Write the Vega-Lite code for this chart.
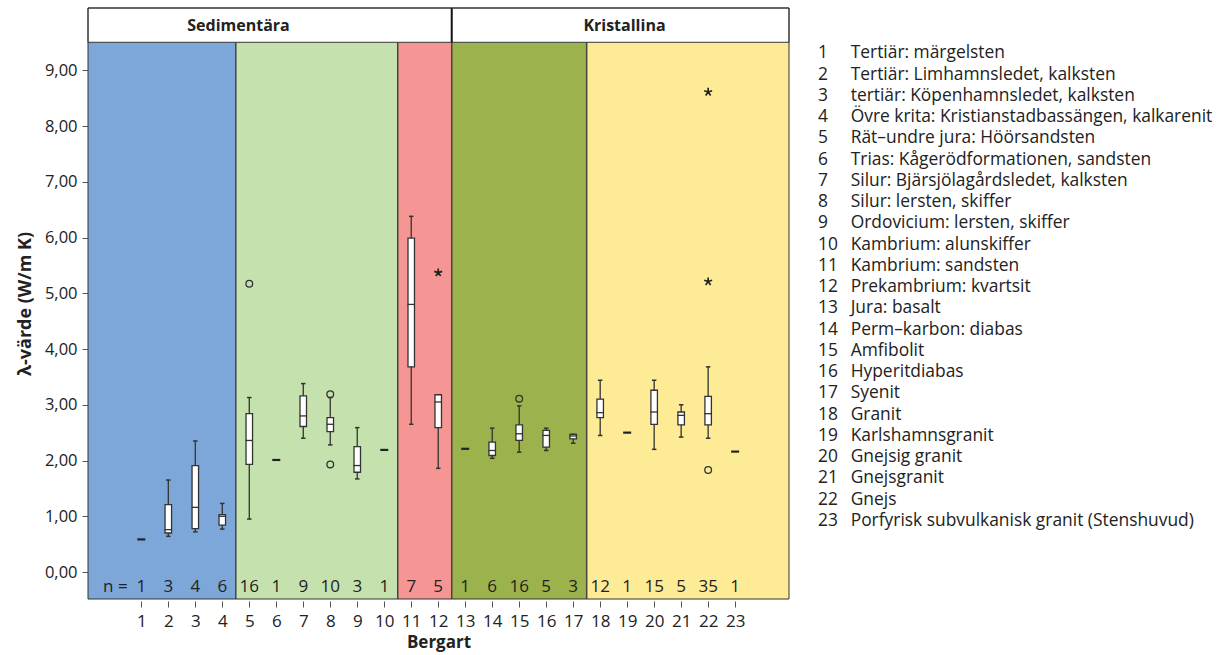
{
  "$schema": "https://vega.github.io/schema/vega-lite/v6.json",
  "padding": {"left": 16, "top": 7, "right": 0, "bottom": 3},
  "autosize": {"type": "pad"},
  "background": "white",
  "config": {"font": "Open Sans", "view": {"stroke": null}, "axisX": {"labelOverlap": false}},
  "spacing": 28,
  "datasets": {
    "regions": [
      {"region": "A", "lo": -1, "hi": 4.5},
      {"region": "B", "lo": 4.5, "hi": 10.5},
      {"region": "C", "lo": 10.5, "hi": 12.5},
      {"region": "D", "lo": 12.5, "hi": 17.5},
      {"region": "E", "lo": 17.5, "hi": 26}
    ],
    "stats": [
      {"cat": 1, "n": 1, "lo": 0.585, "q1": 0.585, "med": 0.585, "q3": 0.585, "hi": 0.585},
      {"cat": 2, "n": 3, "lo": 0.64, "q1": 0.70, "med": 0.76, "q3": 1.21, "hi": 1.65},
      {"cat": 3, "n": 4, "lo": 0.72, "q1": 0.78, "med": 1.16, "q3": 1.91, "hi": 2.35},
      {"cat": 4, "n": 6, "lo": 0.77, "q1": 0.84, "med": 1.00, "q3": 1.03, "hi": 1.23},
      {"cat": 5, "n": 16, "lo": 0.95, "q1": 1.93, "med": 2.36, "q3": 2.84, "hi": 3.13},
      {"cat": 6, "n": 1, "lo": 2.01, "q1": 2.01, "med": 2.01, "q3": 2.01, "hi": 2.01},
      {"cat": 7, "n": 9, "lo": 2.40, "q1": 2.61, "med": 2.80, "q3": 3.16, "hi": 3.38},
      {"cat": 8, "n": 10, "lo": 2.28, "q1": 2.52, "med": 2.65, "q3": 2.77, "hi": 3.13},
      {"cat": 9, "n": 3, "lo": 1.67, "q1": 1.79, "med": 1.91, "q3": 2.25, "hi": 2.59},
      {"cat": 10, "n": 1, "lo": 2.19, "q1": 2.19, "med": 2.19, "q3": 2.19, "hi": 2.19},
      {"cat": 11, "n": 7, "lo": 2.65, "q1": 3.68, "med": 4.80, "q3": 5.99, "hi": 6.38},
      {"cat": 12, "n": 5, "lo": 1.86, "q1": 2.59, "med": 3.05, "q3": 3.18, "hi": 3.18},
      {"cat": 13, "n": 1, "lo": 2.21, "q1": 2.21, "med": 2.21, "q3": 2.21, "hi": 2.21},
      {"cat": 14, "n": 6, "lo": 2.04, "q1": 2.09, "med": 2.18, "q3": 2.33, "hi": 2.58},
      {"cat": 15, "n": 16, "lo": 2.15, "q1": 2.36, "med": 2.48, "q3": 2.64, "hi": 2.98},
      {"cat": 16, "n": 5, "lo": 2.18, "q1": 2.24, "med": 2.45, "q3": 2.54, "hi": 2.58},
      {"cat": 17, "n": 3, "lo": 2.31, "q1": 2.39, "med": 2.44, "q3": 2.47, "hi": 2.47},
      {"cat": 18, "n": 12, "lo": 2.45, "q1": 2.77, "med": 2.86, "q3": 3.10, "hi": 3.44},
      {"cat": 19, "n": 1, "lo": 2.50, "q1": 2.50, "med": 2.50, "q3": 2.50, "hi": 2.50},
      {"cat": 20, "n": 15, "lo": 2.20, "q1": 2.65, "med": 2.87, "q3": 3.26, "hi": 3.44},
      {"cat": 21, "n": 5, "lo": 2.42, "q1": 2.64, "med": 2.81, "q3": 2.87, "hi": 3.00},
      {"cat": 22, "n": 35, "lo": 2.40, "q1": 2.64, "med": 2.84, "q3": 3.15, "hi": 3.68},
      {"cat": 23, "n": 1, "lo": 2.16, "q1": 2.16, "med": 2.16, "q3": 2.16, "hi": 2.16}
    ],
    "outliers": [
      {"cat": 5, "value": 5.17, "kind": "o"},
      {"cat": 8, "value": 3.19, "kind": "o"},
      {"cat": 8, "value": 1.93, "kind": "o"},
      {"cat": 12, "value": 5.37, "kind": "s"},
      {"cat": 15, "value": 3.11, "kind": "o"},
      {"cat": 22, "value": 1.83, "kind": "o"},
      {"cat": 22, "value": 5.21, "kind": "s"},
      {"cat": 22, "value": 8.61, "kind": "s"}
    ],
    "legend": [
      {"id": 1, "label": "Tertiär: märgelsten"},
      {"id": 2, "label": "Tertiär: Limhamnsledet, kalksten"},
      {"id": 3, "label": "tertiär: Köpenhamnsledet, kalksten"},
      {"id": 4, "label": "Övre krita: Kristianstadbassängen, kalkarenit"},
      {"id": 5, "label": "Rät–undre jura: Höörsandsten"},
      {"id": 6, "label": "Trias: Kågerödformationen, sandsten"},
      {"id": 7, "label": "Silur: Bjärsjölagårdsledet, kalksten"},
      {"id": 8, "label": "Silur: lersten, skiffer"},
      {"id": 9, "label": "Ordovicium: lersten, skiffer"},
      {"id": 10, "label": "Kambrium: alunskiffer"},
      {"id": 11, "label": "Kambrium: sandsten"},
      {"id": 12, "label": "Prekambrium: kvartsit"},
      {"id": 13, "label": "Jura: basalt"},
      {"id": 14, "label": "Perm–karbon: diabas"},
      {"id": 15, "label": "Amfibolit"},
      {"id": 16, "label": "Hyperitdiabas"},
      {"id": 17, "label": "Syenit"},
      {"id": 18, "label": "Granit"},
      {"id": 19, "label": "Karlshamnsgranit"},
      {"id": 20, "label": "Gnejsig granit"},
      {"id": 21, "label": "Gnejsgranit"},
      {"id": 22, "label": "Gnejs"},
      {"id": 23, "label": "Porfyrisk subvulkanisk granit (Stenshuvud)"}
    ]
  },
  "hconcat": [
    {
      "width": 701,
      "height": 591,
      "layer": [
        {
          "data": {"name": "regions"},
          "mark": {"type": "rect", "clip": true},
          "encoding": {
            "x": {"field": "lo", "type": "quantitative", "title": "Bergart",
              "scale": {"domain": [-0.79, 24.81], "nice": false, "zero": false},
              "axis": {"values": [1,2,3,4,5,6,7,8,9,10,11,12,13,14,15,16,17,18,19,20,21,22,23], "tickCount": 40, "format": "d",
                "grid": false, "domain": false, "tickSize": 6, "tickColor": "#555", "offset": 2,
                "labelFontSize": 17, "labelColor": "#222", "labelPadding": 6, "labelFlush": false, "labelOverlap": false,
                "titleFontSize": 17, "titleFontWeight": "bold", "titleColor": "#222", "titlePadding": 5}},
            "x2": {"field": "hi"},
            "y": {"datum": -0.484, "type": "quantitative", "title": "λ-värde (W/m K)",
              "scale": {"domain": [-0.484, 10.117], "nice": false, "zero": false},
              "axis": {"values": [0,1,2,3,4,5,6,7,8,9], "tickCount": 20, "grid": false, "domain": false, "tickSize": 6, "tickColor": "#555",
                "labelExpr": "replace(format(datum.value, '.2f'), '.', ',')",
                "labelFontSize": 16.5, "labelColor": "#222", "labelPadding": 5,
                "titleFontSize": 18, "titleFontWeight": "bold", "titleColor": "#222", "titlePadding": 10}},
            "y2": {"datum": 9.502},
            "color": {"field": "region", "type": "nominal",
              "scale": {"domain": ["A","B","C","D","E"], "range": ["#7DA7D8","#C5E1AE","#F59694","#9CB34D","#FEEB96"]},
              "legend": null}
          }
        },
        {
          "data": {"name": "regions"},
          "transform": [{"filter": "datum.hi < 20"}],
          "mark": {"type": "rule", "stroke": "#444", "strokeWidth": 1.5},
          "encoding": {
            "x": {"field": "hi", "type": "quantitative", "title": "Bergart"},
            "y": {"datum": -0.484, "type": "quantitative", "title": "λ-värde (W/m K)"},
            "y2": {"datum": 9.502}
          }
        },
        {
          "data": {"values": [{}]},
          "mark": {"type": "rect", "fill": "white", "stroke": "#333", "strokeWidth": 1},
          "encoding": {
            "y": {"datum": 9.502, "type": "quantitative", "title": "λ-värde (W/m K)"},
            "y2": {"datum": 10.117}
          }
        },
        {
          "data": {"values": [{}]},
          "mark": {"type": "rule", "stroke": "#111", "strokeWidth": 2},
          "encoding": {
            "x": {"datum": 12.5, "type": "quantitative", "title": "Bergart"},
            "y": {"datum": 9.502, "type": "quantitative", "title": "λ-värde (W/m K)"},
            "y2": {"datum": 10.117}
          }
        },
        {
          "data": {"values": [{}]},
          "mark": {"type": "text", "text": "Sedimentära", "fontSize": 16, "fontWeight": "bold", "color": "#222", "baseline": "middle"},
          "encoding": {
            "x": {"datum": 4.6, "type": "quantitative", "title": "Bergart"},
            "y": {"datum": 9.8, "type": "quantitative", "title": "λ-värde (W/m K)"}
          }
        },
        {
          "data": {"values": [{}]},
          "mark": {"type": "text", "text": "Kristallina", "fontSize": 16, "fontWeight": "bold", "color": "#222", "baseline": "middle"},
          "encoding": {
            "x": {"datum": 18.9, "type": "quantitative", "title": "Bergart"},
            "y": {"datum": 9.8, "type": "quantitative", "title": "λ-värde (W/m K)"}
          }
        },
        {
          "data": {"name": "stats"},
          "transform": [{"filter": "datum.n > 1"}],
          "mark": {"type": "rule", "stroke": "#333", "strokeWidth": 1.3},
          "encoding": {
            "x": {"field": "cat", "type": "quantitative", "title": "Bergart"},
            "y": {"field": "lo", "type": "quantitative", "title": "λ-värde (W/m K)"},
            "y2": {"field": "hi"}
          }
        },
        {
          "data": {"name": "stats"},
          "transform": [{"filter": "datum.n > 1"}],
          "mark": {"type": "tick", "orient": "horizontal", "size": 4.5, "thickness": 1.5, "color": "#333", "opacity": 1},
          "encoding": {
            "x": {"field": "cat", "type": "quantitative", "title": "Bergart"},
            "y": {"field": "lo", "type": "quantitative", "title": "λ-värde (W/m K)"}
          }
        },
        {
          "data": {"name": "stats"},
          "transform": [{"filter": "datum.n > 1"}],
          "mark": {"type": "tick", "orient": "horizontal", "size": 4.5, "thickness": 1.5, "color": "#333", "opacity": 1},
          "encoding": {
            "x": {"field": "cat", "type": "quantitative", "title": "Bergart"},
            "y": {"field": "hi", "type": "quantitative", "title": "λ-värde (W/m K)"}
          }
        },
        {
          "data": {"name": "stats"},
          "transform": [{"filter": "datum.n > 1"}],
          "mark": {"type": "bar", "width": 6.5, "fill": "white", "stroke": "#333", "strokeWidth": 1.3},
          "encoding": {
            "x": {"field": "cat", "type": "quantitative", "title": "Bergart"},
            "y": {"field": "q1", "type": "quantitative", "title": "λ-värde (W/m K)"},
            "y2": {"field": "q3"}
          }
        },
        {
          "data": {"name": "stats"},
          "transform": [{"filter": "datum.n > 1"}],
          "mark": {"type": "tick", "orient": "horizontal", "size": 7.5, "thickness": 1.3, "color": "#333", "opacity": 1},
          "encoding": {
            "x": {"field": "cat", "type": "quantitative", "title": "Bergart"},
            "y": {"field": "med", "type": "quantitative", "title": "λ-värde (W/m K)"}
          }
        },
        {
          "data": {"name": "stats"},
          "transform": [{"filter": "datum.n == 1"}],
          "mark": {"type": "tick", "orient": "horizontal", "size": 8, "thickness": 2.2, "color": "#222", "opacity": 1},
          "encoding": {
            "x": {"field": "cat", "type": "quantitative", "title": "Bergart"},
            "y": {"field": "med", "type": "quantitative", "title": "λ-värde (W/m K)"}
          }
        },
        {
          "data": {"name": "outliers"},
          "transform": [{"filter": "datum.kind == 'o'"}],
          "mark": {"type": "point", "shape": "circle", "filled": false, "size": 45, "stroke": "#333", "strokeWidth": 1.3, "opacity": 1},
          "encoding": {
            "x": {"field": "cat", "type": "quantitative", "title": "Bergart"},
            "y": {"field": "value", "type": "quantitative", "title": "λ-värde (W/m K)"}
          }
        },
        {
          "data": {"name": "outliers"},
          "transform": [{"filter": "datum.kind == 's'"}],
          "mark": {"type": "point", "shape": "M0,0L0,-1M0,0L0.951,-0.309M0,0L0.588,0.809M0,0L-0.588,0.809M0,0L-0.951,-0.309", "filled": false, "size": 70, "stroke": "#222", "strokeWidth": 1.7, "opacity": 1},
          "encoding": {
            "x": {"field": "cat", "type": "quantitative", "title": "Bergart"},
            "y": {"field": "value", "type": "quantitative", "title": "λ-värde (W/m K)"}
          }
        },
        {
          "data": {"name": "stats"},
          "mark": {"type": "text", "fontSize": 17, "color": "#222", "baseline": "middle"},
          "encoding": {
            "x": {"field": "cat", "type": "quantitative", "title": "Bergart"},
            "y": {"datum": -0.27, "type": "quantitative", "title": "λ-värde (W/m K)"},
            "text": {"field": "n"}
          }
        },
        {
          "data": {"values": [{}]},
          "mark": {"type": "text", "text": "n =", "fontSize": 17, "color": "#222", "baseline": "middle"},
          "encoding": {
            "x": {"datum": 0.04, "type": "quantitative", "title": "Bergart"},
            "y": {"datum": -0.27, "type": "quantitative", "title": "λ-värde (W/m K)"}
          }
        },
        {
          "data": {"values": [{}]},
          "mark": {"type": "rect", "filled": false, "stroke": "#333", "strokeWidth": 1},
          "encoding": {
            "y": {"datum": -0.484, "type": "quantitative", "title": "λ-värde (W/m K)"},
            "y2": {"datum": 10.117}
          }
        }
      ]
    },
    {
      "width": 400,
      "height": 591,
      "data": {"name": "legend"},
      "layer": [
        {
          "mark": {"type": "text", "align": "left", "baseline": "middle", "fontSize": 17.4, "color": "#222"},
          "encoding": {
            "x": {"value": 0},
            "y": {"field": "id", "type": "quantitative", "scale": {"domain": [-1.131, 26.67], "reverse": true, "nice": false, "zero": false}, "axis": null},
            "text": {"field": "id"}
          }
        },
        {
          "mark": {"type": "text", "align": "left", "baseline": "middle", "fontSize": 17.4, "color": "#222", "dx": 32.7},
          "encoding": {
            "x": {"value": 0},
            "y": {"field": "id", "type": "quantitative", "axis": null},
            "text": {"field": "label"}
          }
        }
      ]
    }
  ]
}
